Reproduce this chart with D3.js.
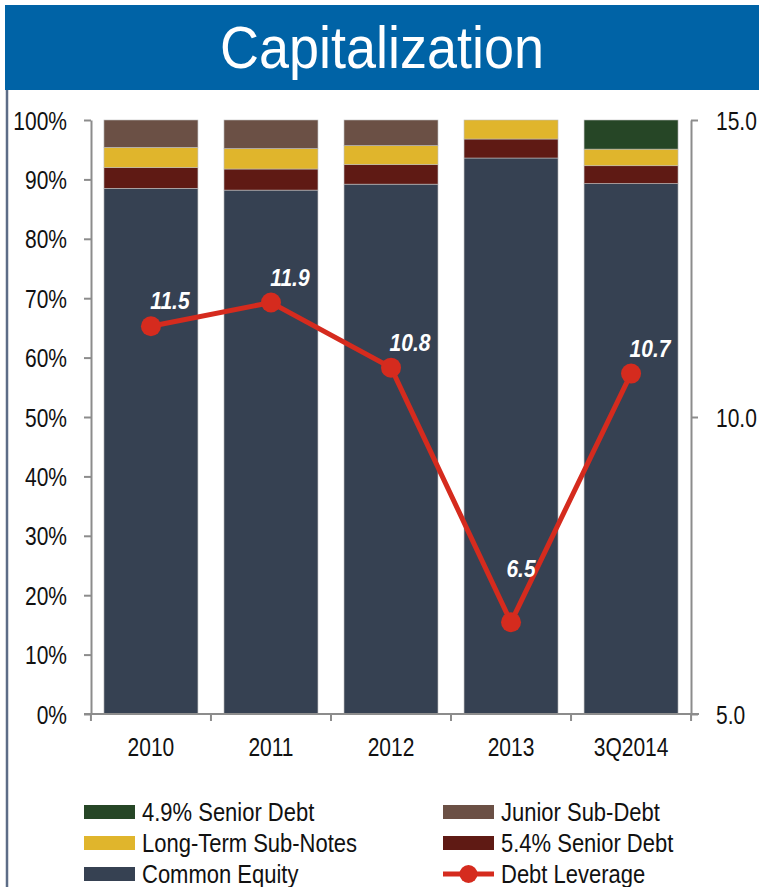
<!DOCTYPE html>
<html>
<head>
<meta charset="utf-8">
<script src="https://cdn.jsdelivr.net/npm/d3@7"></script>
<style>
  body { margin: 0; background: #fff; }
  text { font-family: "Liberation Sans", Arial, sans-serif; }
</style>
</head>
<body>
<div id="chart"></div>
<script>
// ---- data ----
const categories = ["2010", "2011", "2012", "2013", "3Q2014"];
const commonEquity = [88.5, 88.2, 89.2, 93.6, 89.3];
const seniorDebt54 = [3.5, 3.55, 3.3, 3.2, 3.0];
const longTermSubNotes = [3.4, 3.45, 3.2, 3.2, 2.8];
const juniorSubDebt = [4.6, 4.8, 4.3, 0, 0];
const seniorDebt49 = [0, 0, 0, 0, 4.9];
const debtLeverage = [11.5, 11.9, 10.8, 6.5, 10.7];
const pctTicks = [0, 10, 20, 30, 40, 50, 60, 70, 80, 90, 100];
const levTicks = [5, 10, 15];

const W = 759, H = 887;
const svg = d3.select("#chart").append("svg")
  .attr("width", W)
  .attr("height", H);

// title bar + frame
svg.append("rect")
  .attr("x", 5).attr("y", 5)
  .attr("width", W - 5).attr("height", 85)
  .attr("fill", "#0063a6");
svg.append("text")
  .attr("transform", "translate(382,68) scale(1,1.1)")
  .attr("text-anchor", "middle")
  .attr("fill", "#fff")
  .style("font-size", "54px")
  .text("Capitalization");
svg.append("line")
  .attr("x1", 7).attr("x2", 7)
  .attr("y1", 90).attr("y2", H)
  .attr("stroke", "#5d6d87")
  .attr("stroke-width", 2.5);

// ---- scales ----
const x = d3.scaleBand()
  .domain(categories)
  .range([91, 691])
  .paddingInner(0.217)
  .paddingOuter(0.108);

const yPct = d3.scaleLinear().domain([0, 100]).range([714, 120]);
// line plot area sits a touch higher than the axis labels suggest
const yLev = d3.scaleLinear().domain([5, 15]).range([711, 119]);

const keys = ["ce", "sd54", "ltsn", "jsd", "sd49"];
const colors = {
  ce: "#364152",
  sd54: "#5f1a14",
  ltsn: "#e0b52c",
  jsd: "#6b5045",
  sd49: "#264626"
};

const table = categories.map((c, i) => ({
  cat: c,
  ce: commonEquity[i],
  sd54: seniorDebt54[i],
  ltsn: longTermSubNotes[i],
  jsd: juniorSubDebt[i],
  sd49: seniorDebt49[i]
}));
const stacked = d3.stack().keys(keys)(table);

// ---- bars ----
svg.append("g")
  .selectAll("g")
  .data(stacked)
  .join("g")
  .attr("fill", d => colors[d.key])
  .selectAll("rect")
  .data(d => d.filter(s => s[1] - s[0] > 0))
  .join("rect")
  .attr("x", d => x(d.data.cat))
  .attr("y", d => yPct(d[1]))
  .attr("width", x.bandwidth())
  .attr("height", d => yPct(d[0]) - yPct(d[1]))
  .attr("stroke", "#bdbdbd")
  .attr("stroke-width", 0.6);

// ---- axes ----
function styleAxis(g) {
  g.selectAll("path, line").attr("stroke", "#8c8c8c").attr("stroke-width", 2);
  g.selectAll("text")
    .attr("fill", "#111")
    .style("font-size", "21px")
    .attr("x", 0).attr("y", 0).attr("dy", null);
}

const leftAxis = svg.append("g")
  .attr("transform", "translate(91,0)")
  .call(d3.axisLeft(yPct).tickValues(pctTicks).tickSize(7).tickSizeOuter(0)
    .tickFormat(d => d + "%"))
  .call(styleAxis);
leftAxis.selectAll("text")
  .attr("text-anchor", "end")
  .attr("transform", "translate(-24,9) scale(1,1.2)");

const rightAxis = svg.append("g")
  .attr("transform", "translate(691,0)")
  .call(d3.axisRight(yPct.copy().domain([5, 15])).tickValues(levTicks).tickSize(7).tickSizeOuter(0)
    .tickFormat(d3.format(".1f")))
  .call(styleAxis);
rightAxis.selectAll("text")
  .attr("text-anchor", "start")
  .attr("transform", "translate(25,9) scale(1,1.2)");

// bottom axis: labels centred on bands, ticks at band boundaries
const bottomAxis = svg.append("g")
  .attr("transform", "translate(0,714)")
  .call(d3.axisBottom(x).tickSize(0).tickSizeOuter(0))
  .call(styleAxis);
bottomAxis.select(".domain").remove();
bottomAxis.selectAll("text")
  .attr("text-anchor", "middle")
  .attr("transform", "translate(0,42) scale(1,1.2)");

const bounds = categories.map(c => x(c) - x.step() * x.paddingInner() / 2)
  .concat([x(categories[categories.length - 1]) + x.bandwidth() + x.step() * x.paddingInner() / 2]);
bottomAxis.append("line")
  .attr("x1", 84).attr("x2", 699)
  .attr("stroke", "#8c8c8c").attr("stroke-width", 2);
bottomAxis.selectAll(".bnd")
  .data(bounds)
  .join("line")
  .attr("class", "bnd")
  .attr("x1", d => d).attr("x2", d => d)
  .attr("y1", 0).attr("y2", 7)
  .attr("stroke", "#8c8c8c").attr("stroke-width", 2);

// ---- debt leverage line ----
const red = "#d52b1e";
const cx = c => x(c) + x.bandwidth() / 2;
const line = d3.line()
  .x((d, i) => cx(categories[i]))
  .y(d => yLev(d));

svg.append("path")
  .datum(debtLeverage)
  .attr("fill", "none")
  .attr("stroke", red)
  .attr("stroke-width", 5)
  .attr("d", line);

svg.append("g")
  .selectAll("circle")
  .data(debtLeverage)
  .join("circle")
  .attr("cx", (d, i) => cx(categories[i]))
  .attr("cy", d => yLev(d))
  .attr("r", 10)
  .attr("fill", red);

// value labels; a local minimum gets its label lifted clear of the V
svg.append("g")
  .selectAll("text")
  .data(debtLeverage)
  .join("text")
  .attr("transform", (d, i) => {
    const prev = debtLeverage[i - 1], next = debtLeverage[i + 1];
    const isDip = prev !== undefined && next !== undefined && d < prev && d < next;
    const dx = isDip ? 10 : 19, dy = isDip ? -45 : -17;
    return `translate(${cx(categories[i]) + dx},${yLev(d) + dy}) scale(1,1.1)`;
  })
  .attr("text-anchor", "middle")
  .attr("fill", "#fff")
  .style("font-size", "21px")
  .style("font-weight", "bold")
  .style("font-style", "italic")
  .text(d => d3.format(".1f")(d));

// ---- legend ----
const legendItems = [
  { label: "4.9% Senior Debt", key: "sd49", col: 0, row: 0 },
  { label: "Long-Term Sub-Notes", key: "ltsn", col: 0, row: 1 },
  { label: "Common Equity", key: "ce", col: 0, row: 2 },
  { label: "Junior Sub-Debt", key: "jsd", col: 1, row: 0 },
  { label: "5.4% Senior Debt", key: "sd54", col: 1, row: 1 },
  { label: "Debt Leverage", key: "line", col: 1, row: 2 }
];

const legend = svg.append("g")
  .selectAll("g")
  .data(legendItems)
  .join("g")
  .attr("transform", d => "translate(" + (84 + d.col * 359) + "," + (805 + d.row * 31) + ")");

legend.filter(d => d.key !== "line")
  .append("rect")
  .attr("width", 51)
  .attr("height", 14)
  .attr("fill", d => colors[d.key]);

const lineItem = legend.filter(d => d.key === "line");
lineItem.append("line")
  .attr("x1", 0).attr("x2", 51)
  .attr("y1", 7).attr("y2", 7)
  .attr("stroke", red).attr("stroke-width", 5);
lineItem.append("circle")
  .attr("cx", 25.5).attr("cy", 7).attr("r", 9)
  .attr("fill", red);

legend.append("text")
  .attr("transform", "translate(58,16) scale(1,1.2)")
  .attr("fill", "#111")
  .style("font-size", "22px")
  .text(d => d.label);
</script>
</body>
</html>
